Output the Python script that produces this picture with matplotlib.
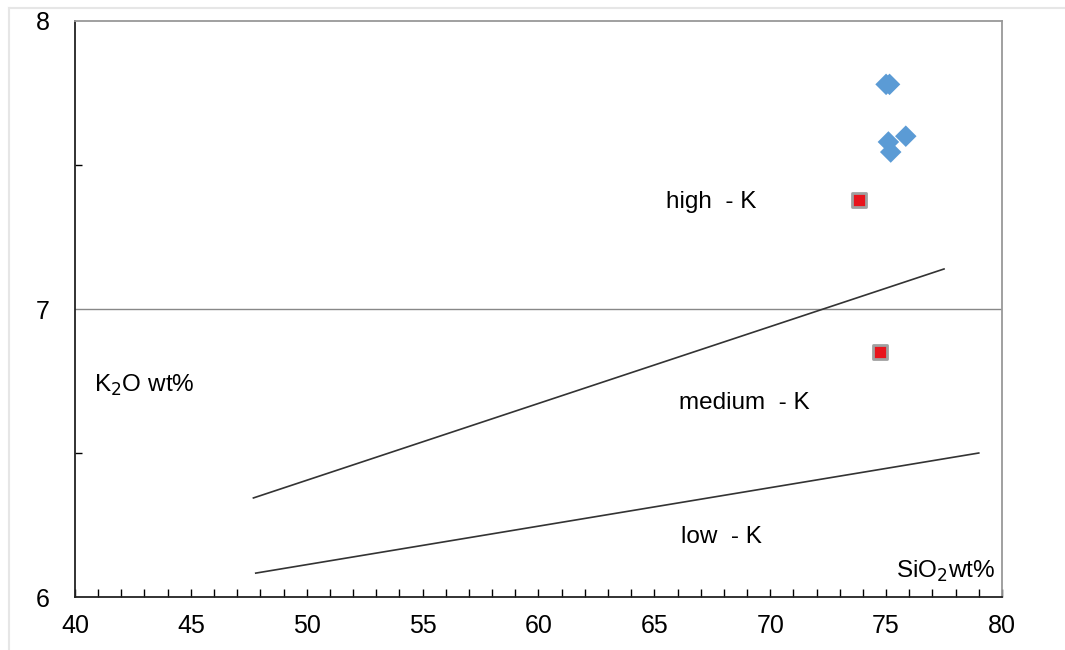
import matplotlib.pyplot as plt
from matplotlib.ticker import MultipleLocator
from matplotlib.lines import Line2D

plt.rcParams['font.family'] = ['Liberation Sans', 'DejaVu Sans']

# boundary lines (SiO2, K2O)
upper_x = [47.7, 77.5]
upper_y = [6.344, 7.139]
lower_x = [47.8, 79.0]
lower_y = [6.083, 6.50]

# samples
blue_x = [75.0, 75.15, 75.85, 75.1, 75.2]
blue_y = [7.78, 7.78, 7.60, 7.58, 7.545]
red_x = [73.85, 74.75]
red_y = [7.378, 6.851]

fig = plt.figure(figsize=(10.65, 6.5), dpi=100)

# faint frame of the original screenshot
fig.add_artist(Line2D([0.008, 1.0], [0.988, 0.988], transform=fig.transFigure, color='#e6e6e6', lw=1.5))
fig.add_artist(Line2D([0.008, 0.008], [0.0, 0.988], transform=fig.transFigure, color='#e6e6e6', lw=1.5))

ax = fig.add_axes([0.0704, 0.0815, 0.8704, 0.8862])

ax.axhline(7, color='#888888', lw=1.0, zorder=1)
ax.plot(upper_x, upper_y, color='#333333', lw=1.2)
ax.plot(lower_x, lower_y, color='#333333', lw=1.2)

ax.scatter(blue_x, blue_y, marker='D', s=120, color='#5b9bd5', edgecolors='none', zorder=3)
ax.scatter(red_x, red_y, marker='s', s=95, color='#e8141c', edgecolors='#a0a0a0', linewidths=2, zorder=3)

ax.text(67.45, 7.372, 'high  - K', fontsize=17.5, ha='center', va='center')
ax.text(68.9, 6.674, 'medium  - K', fontsize=17.5, ha='center', va='center')
ax.text(67.9, 6.208, 'low  - K', fontsize=17.5, ha='center', va='center')
ax.text(43.0, 6.736, 'K$_2$O wt%', fontsize=17.5, ha='center', va='center')
ax.text(77.55, 6.09, 'SiO$_2$wt%', fontsize=17.5, ha='center', va='center')

ax.set_xlim(40, 80)
ax.set_ylim(6, 8)
ax.set_xticks([40, 45, 50, 55, 60, 65, 70, 75, 80])
ax.set_yticks([6, 7, 8])
ax.xaxis.set_minor_locator(MultipleLocator(1))
ax.yaxis.set_minor_locator(MultipleLocator(0.5))
ax.tick_params(axis='x', which='both', direction='in', length=6, width=1, labelsize=18, pad=12)
ax.tick_params(axis='y', which='major', length=0, labelsize=18, pad=18)
ax.tick_params(axis='y', which='minor', direction='in', length=5, width=1)

for side in ['left', 'bottom']:
    ax.spines[side].set_color('#222222')
    ax.spines[side].set_linewidth(1.3)
for side in ['top', 'right']:
    ax.spines[side].set_color('#999999')
    ax.spines[side].set_linewidth(1.3)

fig.savefig('out.png', dpi=100)
